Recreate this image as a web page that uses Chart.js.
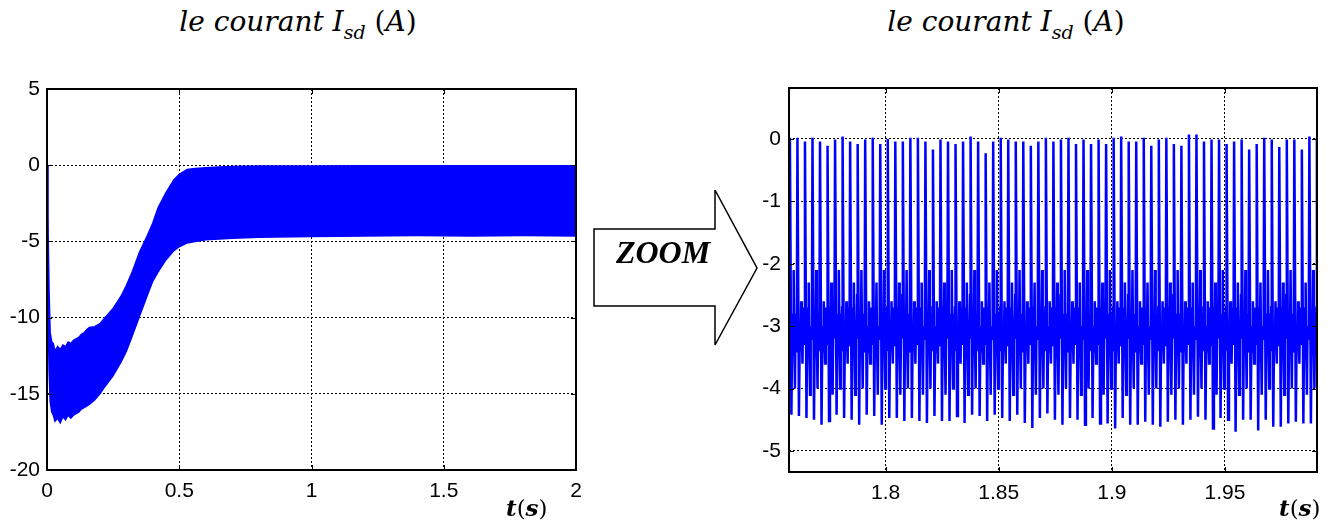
<!DOCTYPE html>
<html>
<head>
<meta charset="utf-8">
<script src="https://cdn.jsdelivr.net/npm/chart.js@4.4.1/dist/chart.umd.min.js"></script>
<style>
  body { margin: 0; width: 1340px; height: 522px; background: #fff; position: relative; overflow: hidden; }
  canvas { position: absolute; top: 0; }
  .titre { position: absolute; top: 5px; width: 400px; text-align: center; font-family: "DejaVu Serif", serif; font-style: italic; font-size: 28px; white-space: nowrap; color: #000; }
  .titre sub { font-size: 19px; vertical-align: -8px; line-height: 0; }
  .titre .droit { font-style: normal; }
  .axe-t { position: absolute; top: 494px; font-family: "DejaVu Serif", serif; font-size: 23px; color: #000; white-space: nowrap; }
  .axe-t b { font-style: italic; }
  svg { position: absolute; left: 0; top: 0; }
</style>
</head>
<body>
<div class="titre" style="left:98px">le courant I<sub>sd</sub> <span class="droit">(</span>A<span class="droit">)</span></div>
<div class="titre" style="left:806px">le courant I<sub>sd</sub> <span class="droit">(</span>A<span class="droit">)</span></div>

<canvas id="graphiqueIsd" width="600" height="522" style="left:0"></canvas>
<canvas id="graphiqueZoom" width="640" height="522" style="left:700px"></canvas>

<div class="axe-t" style="left:506px"><b>t</b>(<b>s</b>)</div>
<div class="axe-t" style="left:1279px"><b>t</b>(<b>s</b>)</div>

<svg width="1340" height="522">
  <polygon points="594,229 715,229 715,190 757,268 715,345 715,306 594,306" fill="#fff" stroke="#000" stroke-width="1.5"/>
  <text x="663" y="263" text-anchor="middle" font-family="Liberation Serif" font-weight="bold" font-style="italic" font-size="32">ZOOM</text>
</svg>

<script>
// courant Isd sur toute la simulation : enveloppe haute / basse de l'ondulation
const tempsEnveloppe = [0, 0.003, 0.008, 0.012, 0.018, 0.024, 0.03, 0.04, 0.05, 0.06, 0.07, 0.08, 0.09, 0.1,
  0.11, 0.12, 0.13, 0.14, 0.15, 0.16, 0.18, 0.2, 0.22, 0.25, 0.28, 0.3, 0.32, 0.35, 0.38, 0.4, 0.42, 0.45,
  0.48, 0.5, 0.53, 0.56, 0.6, 0.65, 0.7, 0.8, 1.0, 1.2, 1.4, 1.6, 1.8, 2.0];
const enveloppeHaute = [0, -3.4, -8.4, -11.0, -11.6, -11.7, -12.2, -11.9, -12.1, -11.8, -11.9, -11.6, -11.7, -11.5,
  -11.4, -11.3, -11.1, -11.0, -10.8, -10.65, -10.6, -10.4, -10.0, -9.4, -8.6, -7.9, -7.1, -5.7, -4.6, -3.8, -2.8, -1.8,
  -0.95, -0.6, -0.28, -0.22, -0.17, -0.12, -0.08, -0.06, -0.05, -0.04, -0.04, -0.03, -0.03, -0.03];
const enveloppeBasse = [0, -8.5, -13.5, -15.5, -16.2, -16.4, -16.8, -16.6, -16.9, -16.5, -16.7, -16.4, -16.6, -16.4,
  -16.3, -16.2, -16.0, -15.9, -15.8, -15.7, -15.4, -15.0, -14.5, -13.8, -12.9, -12.2, -11.3, -9.9, -8.5, -7.6, -7.0, -6.2,
  -5.6, -5.35, -5.1, -5.0, -4.9, -4.85, -4.8, -4.72, -4.68, -4.65, -4.62, -4.65, -4.62, -4.65];
const ticksTempsIsd = [0, 0.5, 1, 1.5, 2];
const ticksCourantIsd = [5, 0, -5, -10, -15, -20];

// zoom entre 1.757 s et 1.991 s : une crete et un creux par periode de decoupage
const debutZoom = 1.7577;
const periodeZoom = 0.003328;
const cretes = [0.02, 0.02, -0.04, 0.02, -0.04, -0.11, -0.01, 0.04, -0.04, -0.08, -0.01, 0.02, -0.08, 0,
  -0.04, -0.04, 0.02, 0.02, -0.04, -0.17, -0.01, -0.04, -0.08, -0.04, 0.04, -0.04, -0.23, -0.04, 0.02, -0.01,
  -0.04, -0.04, -0.11, -0.04,
  0.02, -0.04, -0.01, 0.02, -0.08, -0.01, -0.08, -0.01, -0.08, 0.02, 0.04, -0.04, -0.04, 0.02, -0.11, -0.01,
  0.02, -0.08, -0.11, 0.07, 0.07, -0.04, -0.01, -0.01, -0.08, -0.04, -0.01, -0.17, -0.08, 0.02, -0.01, -0.13,
  -0.01, -0.01, -0.17, 0.04, 0.02];
const creux = [-4.42, -4.44, -4.47, -4.50, -4.58, -4.52, -4.42, -4.47, -4.50, -4.58, -4.42, -4.44, -4.58, -4.47,
  -4.47, -4.52, -4.47, -4.52, -4.55, -4.44, -4.52, -4.52, -4.44, -4.55, -4.42, -4.44, -4.52, -4.42, -4.47, -4.52,
  -4.42, -4.55, -4.63, -4.47,
  -4.40, -4.50, -4.58, -4.47, -4.50, -4.58, -4.47, -4.56, -4.56, -4.64, -4.47, -4.58, -4.58, -4.53, -4.58, -4.61,
  -4.53, -4.50, -4.58, -4.50, -4.45, -4.50, -4.64, -4.47, -4.50, -4.69, -4.50, -4.50, -4.67, -4.50, -4.61, -4.61,
  -4.56, -4.53, -4.56, -4.56, -4.56];
// ondulation autour de -3 A entre deux commutations, motif qui revient toutes les trois periodes
const fractionsPalier = [0.32, 0.42, 0.5, 0.58, 0.67, 0.76, 0.85, 0.93];
const motifPalier = [
  [-2.8, -3.3, -2.1, -3.2, -4.0, -2.8, -3.4, -2.7],
  [-3.0, -3.4, -2.6, -3.1, -3.6, -2.7, -3.3, -2.9],
  [-2.7, -3.2, -2.3, -3.3, -4.1, -3.0, -3.2, -2.5]
];
const ticksTempsZoom = [1.8, 1.85, 1.9, 1.95];
const ticksCourantZoom = [0, -1, -2, -3, -4, -5];

const bleu = '#0000ff';
const policeTicks = { family: '"Liberation Sans", Arial, sans-serif', size: 21 };

// cadre noir et petites graduations vers l'interieur sur les quatre cotes
const cadre = {
  id: 'cadre',
  afterDatasetsDraw(chart) {
    const { ctx, chartArea: a, scales } = chart;
    ctx.save();
    ctx.strokeStyle = '#000';
    ctx.lineWidth = 1;
    ctx.beginPath();
    scales.x.ticks.forEach(t => {
      const px = Math.round(scales.x.getPixelForValue(t.value)) + 0.5;
      ctx.moveTo(px, a.top); ctx.lineTo(px, a.top + 5);
      ctx.moveTo(px, a.bottom); ctx.lineTo(px, a.bottom - 5);
    });
    scales.y.ticks.forEach(t => {
      const py = Math.round(scales.y.getPixelForValue(t.value)) + 0.5;
      ctx.moveTo(a.left, py); ctx.lineTo(a.left + 5, py);
      ctx.moveTo(a.right, py); ctx.lineTo(a.right - 5, py);
    });
    ctx.stroke();
    ctx.lineWidth = 2;
    ctx.strokeRect(a.left, a.top, a.width, a.height);
    ctx.restore();
  }
};

function axe(min, max, ticks, taille, horizontal, padding) {
  return {
    type: 'linear',
    min: min,
    max: max,
    afterBuildTicks: s => { s.ticks = ticks.map(v => ({ value: v })); },
    afterFit: s => { if (horizontal) s.height = taille; else s.width = taille; },
    grid: { color: '#000', lineWidth: 1, drawTicks: false },
    border: { display: false, dash: [2, 2] },
    ticks: { color: '#000', font: policeTicks, padding: padding, maxRotation: 0, autoSkip: false,
      callback: v => String(v) }
  };
}

const pointsIsdHaut = tempsEnveloppe.map((t, i) => ({ x: t, y: enveloppeHaute[i] }));
const pointsIsdBas = tempsEnveloppe.map((t, i) => ({ x: t, y: enveloppeBasse[i] }));

new Chart(document.getElementById('graphiqueIsd'), {
  type: 'line',
  data: {
    datasets: [
      { data: pointsIsdHaut, borderColor: bleu, borderWidth: 1.5, pointRadius: 0, tension: 0, fill: false },
      { data: pointsIsdBas, borderColor: bleu, backgroundColor: bleu, borderWidth: 1.5, pointRadius: 0, tension: 0, fill: '-1' }
    ]
  },
  options: {
    responsive: false,
    animation: false,
    devicePixelRatio: 1,
    layout: { padding: { top: 89, right: 24, left: 0, bottom: 0 } },
    plugins: { legend: { display: false }, tooltip: { enabled: false } },
    scales: {
      x: axe(0, 2, ticksTempsIsd, 52, true, 9),
      y: axe(-20, 5, ticksCourantIsd, 47, false, 7)
    }
  },
  plugins: [cadre]
});

const pointsZoom = [];
cretes.forEach((crete, i) => {
  const t0 = debutZoom + i * periodeZoom;
  pointsZoom.push({ x: t0, y: crete });
  pointsZoom.push({ x: t0 + 0.2 * periodeZoom, y: creux[i] });
  motifPalier[i % 3].forEach((v, k) => pointsZoom.push({ x: t0 + fractionsPalier[k] * periodeZoom, y: v }));
});

new Chart(document.getElementById('graphiqueZoom'), {
  type: 'line',
  data: {
    datasets: [
      { data: pointsZoom, borderColor: bleu, borderWidth: 2.5, pointRadius: 0, tension: 0, fill: false }
    ]
  },
  options: {
    responsive: false,
    animation: false,
    devicePixelRatio: 1,
    layout: { padding: { top: 88, right: 23, left: 0, bottom: 0 } },
    plugins: { legend: { display: false }, tooltip: { enabled: false } },
    scales: {
      x: axe(1.7573, 1.9907, ticksTempsZoom, 50, true, 9),
      y: axe(-5.337, 0.817, ticksCourantZoom, 89, false, 8)
    }
  },
  plugins: [cadre]
});
</script>
</body>
</html>
